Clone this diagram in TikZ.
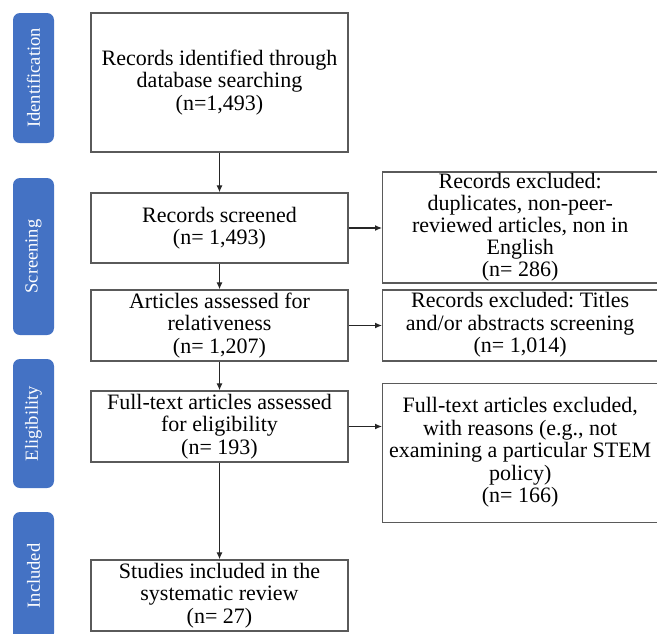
\documentclass[tikz,border=0pt]{standalone}
\usepackage{fontspec}
\setmainfont{Liberation Serif}
\usetikzlibrary{arrows.meta}
\definecolor{phaseblue}{RGB}{68,114,196}
\definecolor{boxline}{RGB}{90,90,90}
\frenchspacing
\begin{document}
\begin{tikzpicture}[x=1pt,y=-1pt,
  phase/.style={fill=phaseblue, rounded corners=7pt, draw=none, rotate=90,
    text=white, font=\fontsize{18.5}{20}\selectfont, inner sep=0pt},
  box/.style={draw=boxline, line width=1.4pt, align=center,
    font=\fontsize{22}{22.5}\selectfont\frenchspacing, inner sep=0pt, fill=white},
  arr/.style={draw=black!85, line width=1.2pt, -{Latex[length=7pt,width=6pt]}}
]
\useasboundingbox (0,0) rectangle (657,633);
\clip (0,0) rectangle (657,633);

% phase labels
\node[phase, minimum width=130pt, minimum height=41pt] (p1) at (33.5,78) {Identification};
\node[phase, minimum width=157pt, minimum height=41pt] (p2) at (33.5,256.5) {Screening};
\node[phase, minimum width=129pt, minimum height=41pt] (p3) at (33.5,423.5) {Eligibility};
\node[phase, minimum width=128pt, minimum height=41pt] (p4) at (33.5,576) {Included};

% left column
\node[box, minimum width=257pt, minimum height=139pt] (b1) at (219.5,82.5)
  {Records identified through\\database searching\\(n=1,493)};
\node[box, minimum width=257pt, minimum height=70pt] (b2) at (219.5,228)
  {Records screened\\(n= 1,493)};
\node[box, minimum width=257pt, minimum height=71pt] (b3) at (219.5,325.5)
  {Articles assessed for\\relativeness\\(n= 1,207)};
\node[box, minimum width=257pt, minimum height=71pt] (b4) at (219.5,426.5)
  {Full-text articles assessed\\for eligibility\\(n= 193)};
\node[box, minimum width=257pt, minimum height=71pt] (b5) at (219.5,595.5)
  {Studies included in the\\systematic review\\(n= 27)};

% right column
\node[box, minimum width=290pt, minimum height=111pt, anchor=west] (r1) at (382,227.5)
  {\hspace*{-15pt}\begin{tabular}{@{}c@{}}Records excluded:\\[-0.5pt]duplicates, non-peer-\\[-0.5pt]reviewed articles, non in\\[-0.5pt]English\\[-0.5pt](n= 286)\end{tabular}};
\node[box, minimum width=290pt, minimum height=71pt, anchor=west] (r2) at (382,325.5)
  {\hspace*{-15pt}\begin{tabular}{@{}c@{}}Records excluded: Titles\\and/or abstracts screening\\(n= 1,014)\end{tabular}};
\node[box, minimum width=290pt, minimum height=139pt, anchor=west] (r3) at (382,453)
  {\hspace*{-15pt}\begin{tabular}{@{}c@{}}Full-text articles excluded,\\with reasons (e.g., not\\examining a particular STEM\\policy)\\(n= 166)\end{tabular}};

% connectors
\draw[arr] (b1) -- (b2);
\draw[arr] (b2) -- (b3);
\draw[arr] (b3) -- (b4);
\draw[arr] (b4) -- (b5);
\draw[arr] (b2.east) -- (b2.east -| r1.west);
\draw[arr] (b3.east) -- (b3.east -| r2.west);
\draw[arr] (b4.east) -- (b4.east -| r3.west);
\end{tikzpicture}
\end{document}
